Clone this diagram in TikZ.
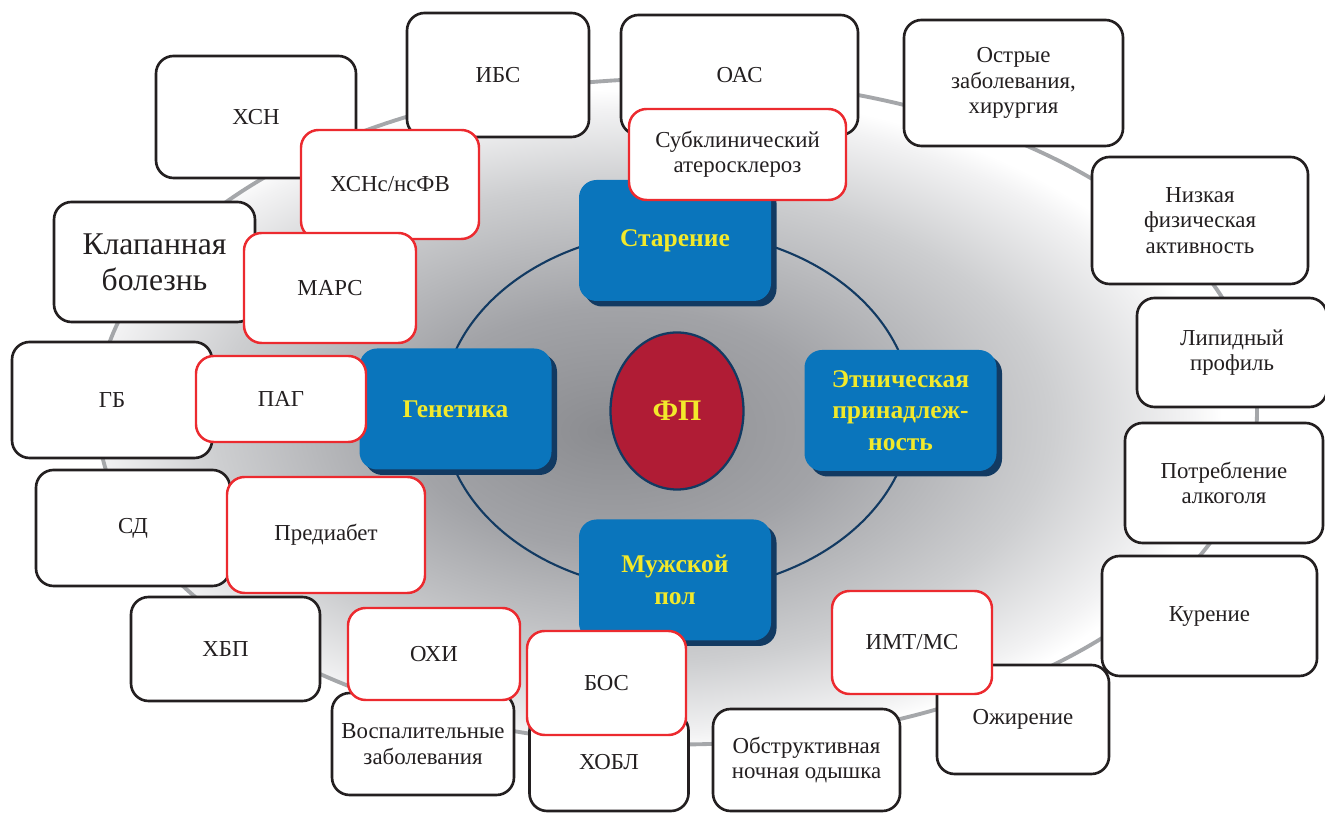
\documentclass[tikz,border=0pt]{standalone}
\usepackage{fontspec}
\setmainfont{Liberation Serif}
\usetikzlibrary{shapes.geometric,shadows}

\definecolor{ringgray}{HTML}{A5A7AA}
\definecolor{boxline}{HTML}{231F20}
\definecolor{newred}{HTML}{EC2A2F}
\definecolor{factorblue}{HTML}{0A75BC}
\definecolor{factornavy}{HTML}{123A62}
\definecolor{factoryellow}{HTML}{F2E92B}
\definecolor{afred}{HTML}{B01C35}
\definecolor{bgdark}{HTML}{8B8C90}
\definecolor{bgmid}{HTML}{A2A3A7}
\definecolor{bglight}{HTML}{CDCED0}
\definecolor{bgpale}{HTML}{F2F2F3}

\pgfdeclareradialshading{bgshade}{\pgfpoint{-3bp}{-1.5bp}}{%
  color(0bp)=(bgdark); color(9bp)=(bgmid); color(18bp)=(bglight); color(23.5bp)=(bgpale); color(25bp)=(white); color(50bp)=(white)}

\tikzset{
  riskbox/.style={draw=boxline, line width=1.5pt, fill=white, rounded corners=10pt, align=center, text=boxline, font=\fontsize{13}{14.5}\selectfont, inner sep=2pt},
  newbox/.style={riskbox, draw=newred, line width=1.4pt},
  factorbox/.style={fill=factorblue, rounded corners=10pt, align=center, text=factoryellow, font=\fontsize{14.5}{18}\selectfont\bfseries, minimum width=3.84cm, minimum height=2.42cm, drop shadow={shadow xshift=0.11cm, shadow yshift=-0.11cm, fill=factornavy, opacity=1}}
}

\begin{document}
\begin{tikzpicture}
\useasboundingbox (0,0) rectangle (26.5,16.26);
\shade[shading=bgshade] (13.54,8.03) ellipse (11.6 and 6.66);
\draw[ringgray, line width=2.2pt] (13.54,8.03) ellipse (11.6 and 6.66);
\draw[factornavy, line width=1.2pt] (13.54,8.04) ellipse (4.7 and 3.6);

\node[factorbox] (aging) at (13.5,11.45) {Старение};
\node[factorbox] (genetics) at (9.11,8.08) {Генетика};
\node[factorbox] (ethnicity) at (18.01,8.05) {Этническая\\принадлеж-\\ность};
\node[factorbox] (male) at (13.5,4.66) {Мужской\\пол};
\node[ellipse, draw=factornavy, line width=1.3pt, fill=afred, minimum width=2.66cm, minimum height=3.14cm, text=factoryellow, font=\fontsize{17}{20}\selectfont\bfseries] (af) at (13.54,8.04) {ФП};

\node[riskbox, minimum width=4cm, minimum height=2.44cm] (chf) at (5.12,13.92) {ХСН};
\node[riskbox, minimum width=3.64cm, minimum height=2.48cm] (ihd) at (9.96,14.76) {ИБС};
\node[riskbox, minimum width=4.74cm, minimum height=2.4cm] (acs) at (14.79,14.76) {ОАС};
\node[riskbox, minimum width=4.38cm, minimum height=2.52cm] (acute) at (20.27,14.6) {Острые\\заболевания,\\хирургия};
\node[riskbox, minimum width=4.32cm, minimum height=2.54cm] (activity) at (24.0,11.85) {Низкая\\физическая\\активность};
\node[riskbox, minimum width=3.8cm, minimum height=2.18cm] (lipids) at (24.64,9.21) {Липидный\\профиль};
\node[riskbox, minimum width=3.96cm, minimum height=2.4cm] (alcohol) at (24.48,6.6) {Потребление\\алкоголя};
\node[riskbox, minimum width=4.3cm, minimum height=2.4cm] (smoking) at (24.19,3.94) {Курение};
\node[riskbox, minimum width=3.44cm, minimum height=2.18cm] (obesity) at (20.46,1.87) {Ожирение};
\node[riskbox, minimum width=3.74cm, minimum height=2.04cm] (osa) at (16.13,1.06) {Обструктивная\\ночная одышка};
\node[riskbox, minimum width=3.18cm, minimum height=1.96cm] (copd) at (12.18,1.02) {ХОБЛ};
\node[riskbox, minimum width=3.64cm, minimum height=2.04cm] (inflam) at (8.46,1.38) {Воспалительные\\заболевания};
\node[riskbox, minimum width=3.78cm, minimum height=2.08cm] (ckd) at (4.51,3.28) {ХБП};
\node[riskbox, minimum width=3.88cm, minimum height=2.32cm] (dm) at (2.66,5.7) {СД};
\node[riskbox, minimum width=4cm, minimum height=2.32cm] (htn) at (2.24,8.26) {ГБ};
\node[riskbox, minimum width=4.02cm, minimum height=2.4cm, font=\fontsize{18}{20.5}\selectfont] (valve) at (3.09,11.02) {Клапанная\\болезнь};

\node[newbox, minimum width=3.56cm, minimum height=2.18cm] (hfpef) at (7.8,12.57) {ХСНс/нсФВ};
\node[newbox, minimum width=3.44cm, minimum height=2.2cm] (mars) at (6.6,10.5) {МАРС};
\node[newbox, minimum width=3.4cm, minimum height=1.72cm] (pah) at (5.62,8.28) {ПАГ};
\node[newbox, minimum width=3.96cm, minimum height=2.32cm] (prediab) at (6.52,5.56) {Предиабет};
\node[newbox, minimum width=3.44cm, minimum height=1.84cm] (pad) at (8.68,3.18) {ОХИ};
\node[newbox, minimum width=3.18cm, minimum height=2.08cm] (asthma) at (12.13,2.6) {БОС};
\node[newbox, minimum width=3.2cm, minimum height=2.06cm] (bmi) at (18.24,3.41) {ИМТ/МС};
\node[newbox, minimum width=4.34cm, minimum height=1.82cm] (subath) at (14.75,13.17) {Субклинический\\атеросклероз};
\end{tikzpicture}
\end{document}
